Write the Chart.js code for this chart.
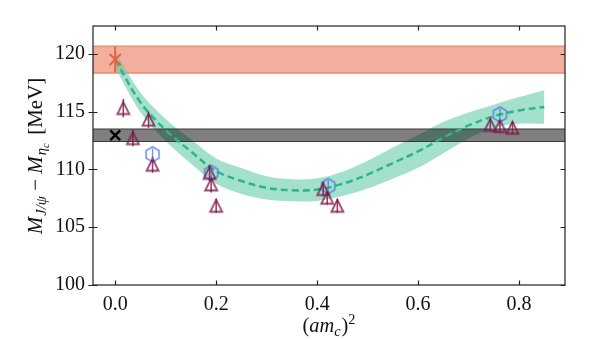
<!DOCTYPE html>
<html><head><meta charset="utf-8">
<script src="https://cdn.jsdelivr.net/npm/chart.js@4"></script>
<style>html,body{margin:0;padding:0;background:#fff;}#wrap{width:592px;height:340px;position:relative;}</style>
</head><body><div id="wrap"><canvas id="c" width="592" height="340"></canvas></div>
<script>
// ---- data ----
const fitX   = [0, 0.05, 0.1, 0.15, 0.2, 0.25, 0.3, 0.35, 0.4, 0.45, 0.5, 0.55, 0.6, 0.65, 0.7, 0.75, 0.8, 0.85];
const fitY   = [119.5, 115.8, 113.4, 111.55, 109.85, 109.0, 108.4, 108.2, 108.25, 108.75, 109.55, 110.55, 111.55, 112.75, 113.8, 114.6, 115.1, 115.4];
const fitErr = [0.7, 0.85, 0.95, 1.05, 1.1, 1.12, 1.0, 0.95, 0.98, 1.05, 1.2, 1.35, 1.42, 1.35, 1.12, 1.0, 1.15, 1.45];

const triX   = [0.016, 0.035, 0.066, 0.074, 0.187, 0.19, 0.2, 0.412, 0.42, 0.44, 0.743, 0.762, 0.787];
const triY   = [115.3, 112.7, 114.3, 110.4, 109.7, 108.7, 106.85, 108.3, 107.55, 106.85, 113.85, 113.75, 113.6];
const triErr = [0.8, 0.7, 0.7, 0.7, 0.7, 0.7, 0.6, 0.6, 0.6, 0.6, 0.55, 0.55, 0.55];

const hexX   = [0.074, 0.19, 0.422, 0.762];
const hexY   = [111.3, 109.7, 108.55, 114.75];
const hexErr = [0.5, 0.5, 0.5, 0.5];

const contX = [0];
const contY = [119.5];
const contErr = [1.1];
const contBand = [1.17];

const expX = [0];
const expY = [112.95];
const expBand = [0.54];

const xTicks = [0, 0.2, 0.4, 0.6, 0.8];
const yTicks = [100, 105, 110, 115, 120];
const xRange = [-0.044, 0.891];
const yRange = [100, 122.4];

const FONT = '"Liberation Serif"';

// ---- marker images ----
function makeHex(color, r, lw) {
  const s = Math.ceil(2 * r + lw + 2);
  const c = document.createElement('canvas'); c.width = c.height = s;
  const g = c.getContext('2d'); g.strokeStyle = color; g.lineWidth = lw; g.beginPath();
  for (let k = 0; k < 6; k++) {
    const a = -Math.PI / 2 + k * Math.PI / 3;
    const px = s / 2 + r * Math.cos(a), py = s / 2 + r * Math.sin(a);
    k ? g.lineTo(px, py) : g.moveTo(px, py);
  }
  g.closePath(); g.stroke(); return c;
}
function makeTri(color, h, lw) {
  const s = Math.ceil(h + lw + 3);
  const c = document.createElement('canvas'); c.width = c.height = s;
  const g = c.getContext('2d'); g.strokeStyle = color; g.lineWidth = lw; g.lineJoin = 'miter';
  g.beginPath();
  g.moveTo(s / 2, s / 2 - h / 2);
  g.lineTo(s / 2 - h / 2, s / 2 + h / 2);
  g.lineTo(s / 2 + h / 2, s / 2 + h / 2);
  g.closePath(); g.stroke(); return c;
}
const triColor = 'rgba(125,20,70,0.8)';
const hexColor = 'rgba(80,110,225,0.75)';
const contColor = '#e8603c';
const triImg = makeTri(triColor, 12, 1.8);
const hexImg = makeHex(hexColor, 7.5, 1.6);

const pts = (xs, ys) => xs.map((x, i) => ({ x, y: ys[i] }));
const flat = (v) => [{ x: xRange[0], y: v }, { x: xRange[1], y: v }];

const errPlugin = {
  id: 'errbars',
  afterDatasetsDraw(chart) {
    const ctx = chart.ctx, xs = chart.scales.x, ys = chart.scales.y;
    const draw = (X, Y, E, col, lw) => {
      ctx.save(); ctx.strokeStyle = col; ctx.lineWidth = lw;
      X.forEach((x, i) => {
        const px = xs.getPixelForValue(x);
        ctx.beginPath();
        ctx.moveTo(px, ys.getPixelForValue(Y[i] - E[i]));
        ctx.lineTo(px, ys.getPixelForValue(Y[i] + E[i]));
        ctx.stroke();
      });
      ctx.restore();
    };
    draw(triX, triY, triErr, triColor, 1.6);
    draw(hexX, hexY, hexErr, hexColor, 1.4);
    draw(contX, contY, contErr, contColor, 2);
  }
};

const framePlugin = {
  id: 'frame',
  afterDraw(chart) {
    const ctx = chart.ctx, a = chart.chartArea, xs = chart.scales.x, ys = chart.scales.y;
    ctx.save();
    ctx.strokeStyle = '#222'; ctx.lineWidth = 1.2;
    ctx.strokeRect(a.left, a.top, a.right - a.left, a.bottom - a.top);
    const L = 4.5;
    ctx.beginPath();
    xTicks.forEach(v => {
      const p = Math.round(xs.getPixelForValue(v)) + 0.5;
      ctx.moveTo(p, a.bottom); ctx.lineTo(p, a.bottom - L);
      ctx.moveTo(p, a.top); ctx.lineTo(p, a.top + L);
    });
    yTicks.forEach(v => {
      const p = Math.round(ys.getPixelForValue(v)) + 0.5;
      ctx.moveTo(a.left - L, p); ctx.lineTo(a.left + L, p);
      ctx.moveTo(a.right, p); ctx.lineTo(a.right - L, p);
    });
    ctx.stroke();

    ctx.fillStyle = '#111';
    ctx.textBaseline = 'alphabetic';
    // piece: [text, style, size, dy, gapAfter]
    const measure = (list, k) => {
      let w = 0;
      list.forEach(p => { ctx.font = p[1] + ' ' + (p[2] * k).toFixed(1) + 'px ' + FONT; p.w = ctx.measureText(p[0]).width + (p[4] || 0) * k; w += p.w; });
      return w;
    };
    const drawPieces = (list, x0, k) => {
      let x = x0;
      list.forEach(p => { ctx.font = p[1] + ' ' + (p[2] * k).toFixed(1) + 'px ' + FONT; ctx.fillText(p[0], x, p[3] * k); x += p.w; });
    };
    const xt = [['(', 'normal', 20, 0, 0], ['am', 'italic', 20, 0, 0], ['c', 'italic', 14, 4, 1], [')', 'normal', 20, 0, 0], ['2', 'normal', 14, -8, 0]];
    const kx = 1.02; const wx = measure(xt, kx);
    ctx.save(); ctx.translate((a.left + a.right) / 2, 332);
    drawPieces(xt, -wx / 2, kx); ctx.restore();
    const yt = [['M', 'italic', 20, 0, 1], ['J/\u03C8', 'italic', 14, 4, 5], ['\u2212', 'normal', 20, 0, 5], ['M', 'italic', 20, 0, 1], ['\u03B7', 'italic', 14, 4, 0], ['c', 'italic', 10, 7, 8], ['[MeV]', 'normal', 20, 0, 0]];
    let wy = measure(yt, 1); const ky = Math.min(1.05, 172 / wy); wy = measure(yt, ky);
    ctx.save(); ctx.translate(42, 156); ctx.rotate(-Math.PI / 2);
    drawPieces(yt, -wy / 2, ky); ctx.restore();
    ctx.restore();
  }
};

new Chart(document.getElementById('c'), {
  type: 'scatter',
  data: {
    datasets: [
      { label: 'cont', data: pts(contX, contY), pointStyle: 'crossRot', pointRadius: 8, borderColor: contColor, borderWidth: 2, showLine: false, order: 1 },
      { label: 'exp', data: pts(expX, expY), pointStyle: 'crossRot', pointRadius: 7, borderColor: '#000', borderWidth: 2.5, showLine: false, order: 1 },
      { label: 'tri', data: pts(triX, triY), pointStyle: triImg, pointRadius: 6, showLine: false, order: 2 },
      { label: 'hex', data: pts(hexX, hexY), pointStyle: hexImg, pointRadius: 6, showLine: false, order: 2 },
      { label: 'fit', data: pts(fitX, fitY), showLine: true, pointRadius: 0, borderColor: 'rgb(45,180,145)', borderWidth: 2.5, borderDash: [7, 4], tension: 0.35, fill: false, order: 3 },
      { label: 'expHi', data: flat(expY[0] + expBand[0]), showLine: true, pointRadius: 0, borderColor: '#3a3a3a', borderWidth: 1.2, fill: false, order: 4 },
      { label: 'expLo', data: flat(expY[0] - expBand[0]), showLine: true, pointRadius: 0, borderColor: '#3a3a3a', borderWidth: 1.2, fill: '-1', backgroundColor: 'rgba(0,0,0,0.5)', order: 4 },
      { label: 'fitHi', data: pts(fitX, fitY.map((v, i) => v + fitErr[i])), showLine: true, pointRadius: 0, borderWidth: 0, borderColor: 'rgba(0,0,0,0)', tension: 0.35, fill: false, order: 5 },
      { label: 'fitLo', data: pts(fitX, fitY.map((v, i) => v - fitErr[i])), showLine: true, pointRadius: 0, borderWidth: 0, borderColor: 'rgba(0,0,0,0)', tension: 0.35, fill: '-1', backgroundColor: 'rgba(102,205,170,0.6)', order: 5 },
      { label: 'contHi', data: flat(contY[0] + contBand[0]), showLine: true, pointRadius: 0, borderColor: 'rgba(232,96,60,0.75)', borderWidth: 1.2, fill: false, order: 6 },
      { label: 'contLo', data: flat(contY[0] - contBand[0]), showLine: true, pointRadius: 0, borderColor: 'rgba(232,96,60,0.75)', borderWidth: 1.2, fill: '-1', backgroundColor: 'rgba(232,96,60,0.5)', order: 6 }
    ]
  },
  options: {
    responsive: false, animation: false, devicePixelRatio: 1,
    layout: { padding: { left: 0, right: 27, top: 26, bottom: 0 } },
    plugins: { legend: { display: false }, tooltip: { enabled: false } },
    scales: {
      x: {
        type: 'linear', min: xRange[0], max: xRange[1],
        afterBuildTicks: s => { s.ticks = xTicks.map(v => ({ value: v })); },
        afterFit: s => { s.height = 55; },
        grid: { display: false, drawTicks: false }, border: { display: false },
        ticks: { padding: 8, color: '#111', font: { size: 20, family: FONT }, callback: v => Number(v).toFixed(1), maxRotation: 0 }
      },
      y: {
        type: 'linear', min: yRange[0], max: yRange[1],
        afterBuildTicks: s => { s.ticks = yTicks.map(v => ({ value: v })); },
        afterFit: s => { s.width = 93; },
        grid: { display: false, drawTicks: false }, border: { display: false },
        ticks: { padding: 8, color: '#111', font: { size: 20, family: FONT }, callback: v => String(v) }
      }
    }
  },
  plugins: [errPlugin, framePlugin]
});
</script>
</body></html>
